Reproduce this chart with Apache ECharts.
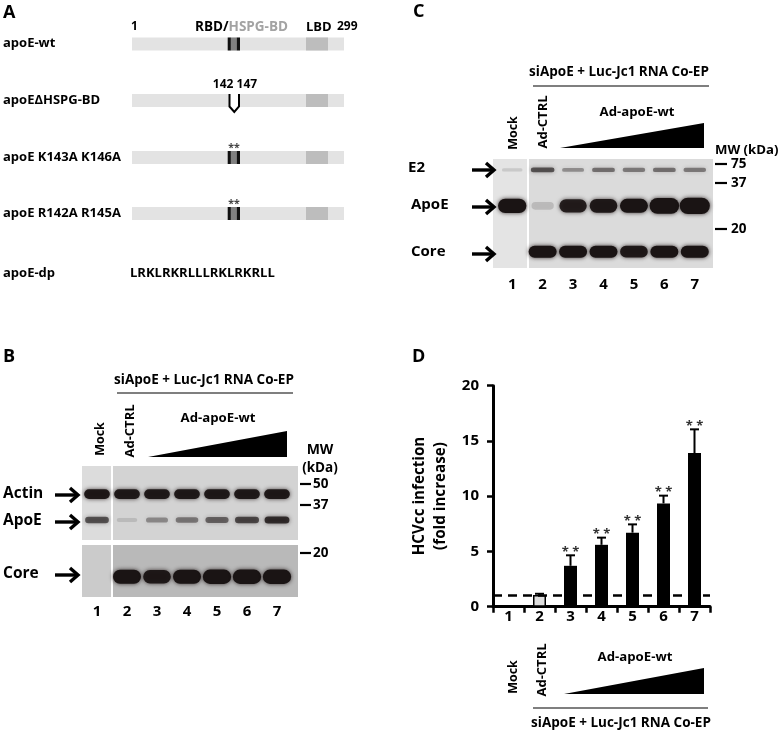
<!DOCTYPE html>
<html><head><meta charset="utf-8">
<script src="https://cdn.jsdelivr.net/npm/echarts@6/dist/echarts.min.js"></script>
<style>html,body{margin:0;padding:0;background:#fff}#c{width:781px;height:732px}</style>
</head><body><div id="c"></div>
<script>
// ---------------- Data ----------------
const lanes = ['1', '2', '3', '4', '5', '6', '7'];
const foldIncrease = [0, 1.05, 3.7, 5.6, 6.7, 9.35, 13.9];
const foldSD = [0, 0.12, 0.95, 0.65, 0.75, 0.7, 2.15];
const significance = ['', '', '**', '**', '**', '**', '**'];
const baselineFold = 1;
const yMin = 0, yMax = 20, yStep = 5;

// relative band intensities per lane (1..7)
const blotB_actin = [0.95, 0.95, 0.95, 0.95, 0.95, 0.95, 0.95];
const blotB_apoE  = [0.6, 0.05, 0.3, 0.4, 0.5, 0.65, 0.8];
const blotB_core  = [0, 1.0, 0.95, 1.0, 1.05, 1.05, 1.05];
const blotC_E2    = [0.05, 0.6, 0.3, 0.45, 0.4, 0.45, 0.4];
const blotC_apoE  = [1.05, 0.08, 0.9, 0.95, 1.0, 1.25, 1.35];
const blotC_core  = [0, 1.0, 1.0, 1.0, 0.95, 1.0, 1.0];

const markersB = ['50', '37', '20'];
const markersC = ['75', '37', '20'];
const constructs = ['apoE-wt', 'apoE\u0394HSPG-BD', 'apoE K143A K146A', 'apoE R142A R145A', 'apoE-dp'];
const peptide = 'LRKLRKRLLLRKLRKRLL';
const coEP = 'siApoE + Luc-Jc1 RNA Co-EP';

// ---------------- Helpers ----------------
const FF = '"Open Sans", Lato, "DejaVu Sans", sans-serif';
const g = [];
function txt(x, y, t, size, opt) {
  opt = opt || {};
  g.push({
    type: 'text', x: x, y: y, rotation: opt.rot || 0, z: 20,
    style: { text: t, x: 0, y: 0, fill: opt.color || '#000',
      fontFamily: FF, fontWeight: 'bold', fontSize: size,
      align: opt.align || 'left', verticalAlign: 'middle', rich: opt.rich }
  });
}
function rect(x, y, w, h, fill, z) {
  g.push({ type: 'rect', z: z === undefined ? 0 : z, shape: { x: x, y: y, width: w, height: h }, style: { fill: fill } });
}
function line(x1, y1, x2, y2, w, z) {
  g.push({ type: 'line', z: z || 20, shape: { x1: x1, y1: y1, x2: x2, y2: y2 }, style: { stroke: '#000', lineWidth: w } });
}
function arrow(x1, x2, y) {
  g.push({ type: 'line', z: 20, shape: { x1: x1, y1: y, x2: x2 - 2, y2: y }, style: { stroke: '#000', lineWidth: 3.4 } });
  g.push({ type: 'polyline', z: 20, shape: { points: [[x2 - 8, y - 7], [x2, y], [x2 - 8, y + 7]] }, style: { stroke: '#000', lineWidth: 3.4, fill: null } });
}
function wedge(x1, x2, yTop, yBot) {
  g.push({ type: 'polygon', z: 20, shape: { points: [[x1, yBot], [x2, yTop], [x2, yBot]] }, style: { fill: '#000' } });
}
function rot(x, y, t, size) { txt(x, y, t, size, { rot: Math.PI / 2, align: 'center' }); }

// ---------------- Panel A ----------------
txt(3, 13, 'A', 18);
txt(131, 27, '1', 12);
txt(195, 27, '{a|RBD/}{b|HSPG-BD}', 13.5, { rich: {
  a: { fontFamily: FF, fontWeight: 'bold', fontSize: 13.5, fill: '#000' },
  b: { fontFamily: FF, fontWeight: 'bold', fontSize: 13.5, fill: '#a3a3a3' } } });
txt(306, 27, 'LBD', 13);
txt(337, 27, '299', 12);
const aRowY = [44, 100.5, 157.5, 213.5];
const aLabelY = [43.5, 100, 157, 213, 273];
constructs.forEach(function (c, i) { txt(3, aLabelY[i], c, 13); });
aRowY.forEach(function (y, i) {
  rect(132, y - 6.5, 212, 13, '#e3e3e3', 1);
  rect(306, y - 6.5, 22, 13, '#bdbdbd', 2);
  if (i === 1) {
    rect(229, y - 6.5, 10, 13, '#ffffff', 3);
    g.push({ type: 'polyline', z: 4, shape: { points: [[229.5, y - 6.5], [229.5, y + 6], [234.3, y + 11.5], [239, y + 6], [239, y - 6.5]] },
      style: { stroke: '#000', lineWidth: 2, fill: null } });
  } else {
    rect(227.7, y - 6.5, 3.2, 13, '#111', 3);
    rect(230.9, y - 6.5, 5.8, 13, '#808080', 3);
    rect(236.7, y - 6.5, 3.3, 13, '#111', 3);
  }
});
txt(235, 85, '142 147', 12, { align: 'center' });
txt(234, 148, '**', 10.5, { align: 'center', color: '#444' });
txt(234, 204, '**', 10.5, { align: 'center', color: '#444' });
txt(130, 273, peptide, 13);

// ---------------- Panel B ----------------
txt(3, 357, 'B', 18);
txt(204, 380, coEP, 13.5, { align: 'center' });
line(117, 393, 293, 393, 1.2);
rot(100, 439, 'Mock', 12.5);
rot(130, 431, 'Ad-CTRL', 13);
txt(218, 418, 'Ad-apoE-wt', 13.2, { align: 'center' });
wedge(148, 287, 431, 457);
txt(320, 450, 'MW', 14, { align: 'center' });
txt(320, 468, '(kDa)', 13.5, { align: 'center' });
rect(82, 466, 216, 74, '#d3d3d3', 0);
rect(82, 466, 29, 74, '#dcdcdc', 0);
rect(111, 466, 2, 74, '#ffffff', 0);
rect(82, 545, 216, 52, '#b9b9b9', 0);
rect(82, 545, 29, 52, '#cbcbcb', 0);
rect(111, 545, 2, 52, '#ffffff', 0);
[484, 505, 553].forEach(function (y, i) { line(300, y, 311, y, 2.2); txt(313, y, markersB[i], 13.5); });
txt(3, 494, 'Actin', 15.5); arrow(55, 78, 495);
txt(3, 521, 'ApoE', 15.5); arrow(55, 78, 522);
txt(3, 574, 'Core', 15.5); arrow(55, 78, 575);

// ---------------- Panel C ----------------
txt(413, 12, 'C', 18);
txt(619, 72, coEP, 13.5, { align: 'center' });
line(533, 86, 709, 86, 1.2);
rot(513, 133, 'Mock', 12.5);
rot(543, 122, 'Ad-CTRL', 13);
txt(637, 112, 'Ad-apoE-wt', 13.2, { align: 'center' });
wedge(560, 704, 123, 148);
txt(715, 150, 'MW (kDa)', 13.2);
rect(493, 159, 220, 109, '#dbdbdb', 0);
rect(493, 159, 34, 109, '#e4e4e4', 0);
rect(527, 159, 2, 109, '#ffffff', 0);
[164, 183, 229].forEach(function (y, i) { line(715, y, 727, y, 2.2); txt(731, y, markersC[i], 13.5); });
txt(408, 168, 'E2', 15); arrow(472, 494, 170);
txt(411, 205, 'ApoE', 15); arrow(472, 494, 207);
txt(411, 252, 'Core', 15); arrow(472, 494, 254);

// ---------------- Panel D annotations ----------------
txt(412, 357, 'D', 18);
rot(420, 496, 'HCVcc infection', 15.2);
rot(441, 496, '(fold increase)', 15.2);
rot(513, 677, 'Mock', 12.5);
rot(542, 670, 'Ad-CTRL', 13);
txt(635, 657, 'Ad-apoE-wt', 13.2, { align: 'center' });
wedge(564, 704, 668, 694);
line(533, 708, 708, 708, 1.2);
txt(621, 723, coEP, 13.5, { align: 'center' });

// ---------------- Series builders ----------------
function bandSeries(ax, vals, pos, bw, bh) {
  return {
    type: 'custom', xAxisIndex: ax, yAxisIndex: ax, silent: true, z: 5,
    data: vals.map(function (v, i) { return [i, pos, v]; }),
    renderItem: function (p, api) {
      const I = api.value(2);
      if (!(I > 0)) return;
      const c = api.coord([api.value(0), api.value(1)]);
      const w = bw * Math.min(0.78 + 0.22 * I, 1.3);
      const h = bh * (0.5 + 0.5 * I);
      const a = Math.min(1, 0.08 + 0.92 * I);
      return { type: 'rect', shape: { x: c[0] - w / 2, y: c[1] - h / 2, width: w, height: h, r: h / 2 },
        style: { fill: 'rgba(26,20,20,' + a + ')', shadowBlur: 4, shadowColor: 'rgba(20,10,10,' + (a * 0.8) + ')' } };
    }
  };
}
const hiddenY = function (i) { return { gridIndex: i, type: 'value', min: 0, max: 100, inverse: true, show: false }; };
const laneX = function (i, show, margin) {
  return { gridIndex: i, type: 'category', data: lanes, show: show,
    axisLine: { show: false }, axisTick: { show: false },
    axisLabel: { show: show, margin: margin, color: '#000', fontWeight: 'bold', fontSize: 15, fontFamily: FF } };
};

const option = {
  animation: false,
  backgroundColor: '#fff',
  grid: [
    { left: 493, top: 385.7, width: 217, height: 221 },
    { left: 497, top: 159, width: 213, height: 109 },
    { left: 82, top: 466, width: 210, height: 74 },
    { left: 82, top: 545, width: 210, height: 52 }
  ],
  xAxis: [
    { gridIndex: 0, type: 'category', data: lanes,
      axisLine: { lineStyle: { color: '#000', width: 3 } },
      axisTick: { show: true, length: 6, lineStyle: { width: 2.5, color: '#000' } },
      axisLabel: { margin: 3, color: '#000', fontWeight: 'bold', fontSize: 15, fontFamily: FF } },
    laneX(1, true, 9),
    laneX(2, false, 0),
    laneX(3, true, 7)
  ],
  yAxis: [
    { gridIndex: 0, type: 'value', min: yMin, max: yMax, interval: yStep,
      axisLine: { show: true, lineStyle: { color: '#000', width: 3 } },
      axisTick: { show: true, length: 6, lineStyle: { width: 2.5, color: '#000' } },
      splitLine: { show: false },
      axisLabel: { margin: 14, color: '#000', fontWeight: 'bold', fontSize: 15, fontFamily: FF } },
    hiddenY(1), hiddenY(2), hiddenY(3)
  ],
  series: [
    { type: 'line', xAxisIndex: 0, yAxisIndex: 0, data: [], z: 1, silent: true,
      markLine: { silent: true, symbol: 'none', label: { show: false },
        lineStyle: { color: '#000', width: 2.5, type: [9, 6] },
        data: [{ yAxis: baselineFold }] } },
    { type: 'bar', xAxisIndex: 0, yAxisIndex: 0, barWidth: 13, z: 3, silent: true,
      itemStyle: { color: '#000' },
      data: foldIncrease.map(function (v, i) {
        return i === 1 ? { value: v, itemStyle: { color: '#dedede', borderColor: '#000', borderWidth: 1.5 } } : v;
      }) },
    { type: 'custom', xAxisIndex: 0, yAxisIndex: 0, z: 4, silent: true,
      data: foldIncrease.map(function (v, i) { return [i, v, v + foldSD[i]]; }),
      renderItem: function (p, api) {
        const i = api.value(0), v = api.value(1), t = api.value(2);
        const children = [];
        const b = api.coord([i, v]), top = api.coord([i, t]);
        if (t > v) {
          children.push({ type: 'line', shape: { x1: b[0], y1: b[1], x2: top[0], y2: top[1] }, style: { stroke: '#000', lineWidth: 2 } });
          children.push({ type: 'line', shape: { x1: top[0] - 4.5, y1: top[1], x2: top[0] + 4.5, y2: top[1] }, style: { stroke: '#000', lineWidth: 2 } });
        }
        const s = significance[p.dataIndex];
        if (s) {
          children.push({ type: 'text', style: { text: s.split('').join(' '), x: top[0], y: top[1] - 3, align: 'center', verticalAlign: 'middle',
            fontFamily: FF, fontWeight: 'bold', fontSize: 13, fill: '#333' } });
        }
        return { type: 'group', children: children };
      } },
    bandSeries(1, blotC_E2, 10, 26, 6),
    bandSeries(1, blotC_apoE, 43, 28, 14),
    bandSeries(1, blotC_core, 85, 28, 12),
    bandSeries(2, blotB_actin, 38, 26, 10),
    bandSeries(2, blotB_apoE, 73, 26, 8),
    bandSeries(3, blotB_core, 61, 28, 14)
  ],
  graphic: { elements: g }
};

const chart = echarts.init(document.getElementById('c'), null, { renderer: 'canvas' });
chart.setOption(option);
</script>
</body></html>
